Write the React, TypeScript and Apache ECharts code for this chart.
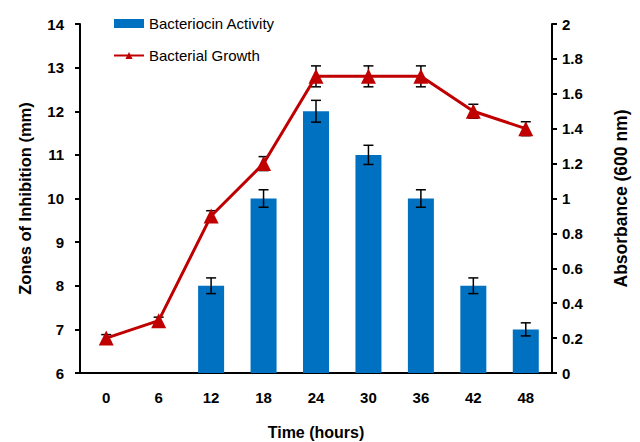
import React, { useEffect, useRef } from "react";
import * as echarts from "echarts";

const categories = ["0", "6", "12", "18", "24", "30", "36", "42", "48"];
const activity: (number | null)[] = [null, null, 8, 10, 12, 11, 10, 8, 7];
const activityErr: (number | null)[] = [null, null, 0.18, 0.2, 0.25, 0.22, 0.2, 0.18, 0.15];
const growth = [0.2, 0.3, 0.9, 1.2, 1.7, 1.7, 1.7, 1.5, 1.4];
const growthErr = [0.02, 0.02, 0.03, 0.04, 0.06, 0.06, 0.06, 0.04, 0.04];

const FONT = "'Liberation Sans', Arial, sans-serif";

function errItem(params: any, api: any) {
  const x = api.value(0);
  const lo = api.value(1);
  const hi = api.value(2);
  const pLo = api.coord([x, lo]);
  const pHi = api.coord([x, hi]);
  const w = 5;
  const style = { stroke: "#000", lineWidth: 1.5 };
  return {
    type: "group",
    children: [
      { type: "line", shape: { x1: pLo[0], y1: pLo[1], x2: pHi[0], y2: pHi[1] }, style },
      { type: "line", shape: { x1: pHi[0] - w, y1: pHi[1], x2: pHi[0] + w, y2: pHi[1] }, style },
      { type: "line", shape: { x1: pLo[0] - w, y1: pLo[1], x2: pLo[0] + w, y2: pLo[1] }, style },
    ],
  };
}

export default function App() {
  const ref = useRef<HTMLDivElement>(null);
  useEffect(() => {
    if (!ref.current) return;
    const chart = echarts.init(ref.current, undefined, { renderer: "svg" });
    const barErrData = activity
      .map((v, i) => (v == null ? null : [i, v - (activityErr[i] as number), v + (activityErr[i] as number)]))
      .filter((d) => d !== null);
    const lineErrData = growth.map((v, i) => [i, v - growthErr[i], v + growthErr[i]]);
    const axisLabel = { color: "#000", fontFamily: FONT, fontWeight: "bold" as const, fontSize: 15 };
    chart.setOption({
      animation: false,
      legend: {
        orient: "vertical",
        left: 100,
        top: 3,
        itemWidth: 30,
        itemHeight: 9,
        itemGap: 17,
        textStyle: { color: "#000", fontFamily: FONT, fontSize: 15 },
        data: [
          { name: "Bacteriocin Activity", icon: "rect" },
          { name: "Bacterial Growth" },
        ],
      },
      grid: { left: 71, right: 96, top: 16, bottom: 77, containLabel: false },
      xAxis: {
        type: "category",
        data: categories,
        boundaryGap: true,
        name: "Time (hours)",
        nameLocation: "middle",
        nameGap: 51,
        nameTextStyle: { color: "#000", fontFamily: FONT, fontWeight: "bold", fontSize: 16 },
        axisLine: { lineStyle: { color: "#000", width: 2 } },
        axisTick: { alignWithLabel: true, length: 5, lineStyle: { color: "#000", width: 2 } },
        axisLabel: { ...axisLabel, margin: 17 },
      },
      yAxis: [
        {
          type: "value",
          min: 6,
          max: 14,
          interval: 1,
          name: "Zones of Inhibition (mm)",
          nameLocation: "middle",
          nameGap: 47,
          nameTextStyle: { color: "#000", fontFamily: FONT, fontWeight: "bold", fontSize: 16.5 },
          axisLine: { show: true, lineStyle: { color: "#000", width: 2 } },
          axisTick: { show: true, length: 5, lineStyle: { color: "#000", width: 2 } },
          axisLabel: { ...axisLabel, margin: 16 },
          splitLine: { show: false },
        },
        {
          type: "value",
          min: 0,
          max: 2,
          interval: 0.2,
          position: "right",
          name: "Absorbance (600 nm)",
          nameLocation: "middle",
          nameRotate: 90,
          nameGap: 60,
          nameTextStyle: { color: "#000", fontFamily: FONT, fontWeight: "bold", fontSize: 17.5 },
          axisLine: { show: true, lineStyle: { color: "#000", width: 2 } },
          axisTick: { show: true, length: 5, lineStyle: { color: "#000", width: 2 } },
          axisLabel: { ...axisLabel, margin: 10, formatter: (v: number) => String(Math.round(v * 10) / 10) },
          splitLine: { show: false },
        },
      ],
      series: [
        {
          name: "Bacteriocin Activity",
          type: "bar",
          yAxisIndex: 0,
          data: activity,
          barWidth: 26,
          itemStyle: { color: "#0070C0" },
          z: 2,
        },
        {
          type: "custom",
          yAxisIndex: 0,
          renderItem: errItem,
          data: barErrData,
          encode: { x: 0, y: [1, 2] },
          z: 3,
          silent: true,
        },
        {
          name: "Bacterial Growth",
          type: "line",
          yAxisIndex: 1,
          data: growth,
          symbol: "triangle",
          symbolSize: 15,
          lineStyle: { color: "#C00000", width: 3 },
          itemStyle: { color: "#C00000" },
          z: 5,
        },
        {
          type: "custom",
          yAxisIndex: 1,
          renderItem: errItem,
          data: lineErrData,
          encode: { x: 0, y: [1, 2] },
          z: 4,
          silent: true,
        },
      ],
    });
    return () => chart.dispose();
  }, []);
  return <div ref={ref} style={{ width: 640, height: 442 }} />;
}
